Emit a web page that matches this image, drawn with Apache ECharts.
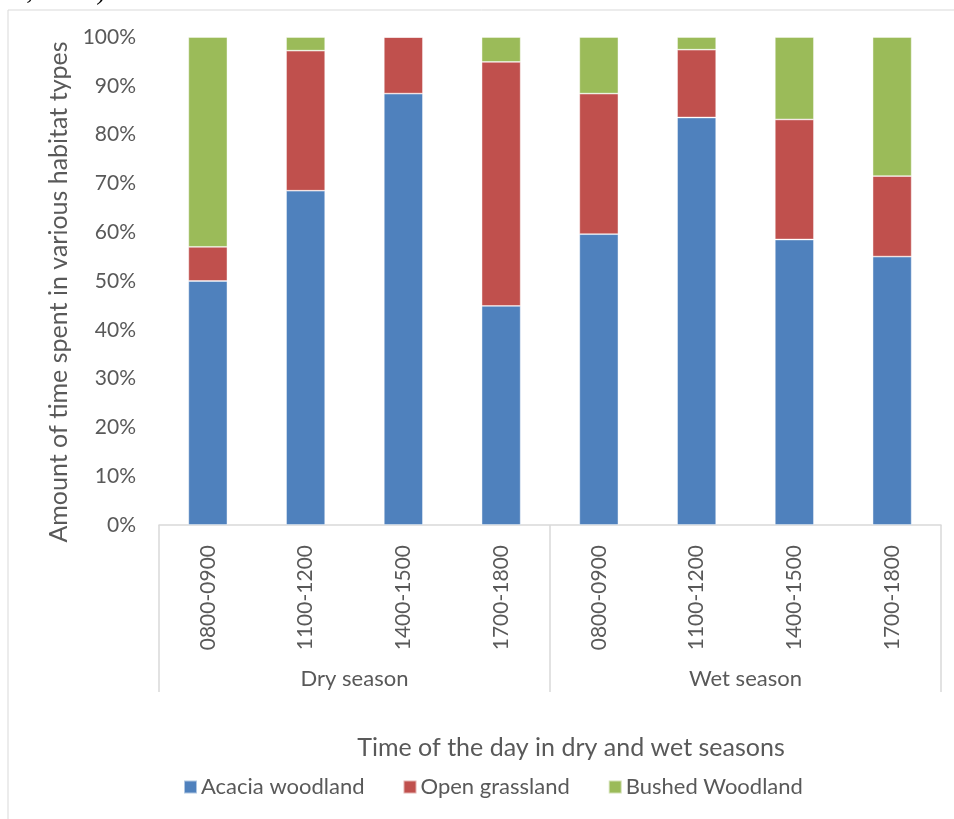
<!DOCTYPE html>
<html>
<head>
<meta charset="utf-8">
<script src="https://cdn.jsdelivr.net/npm/echarts@6/dist/echarts.min.js"></script>
<style>
  html, body { margin: 0; padding: 0; background: #fff; }
  #chart { width: 954px; height: 819px; }
</style>
</head>
<body>
<div id="chart"></div>
<script>
// Time slots within each season, and the season groups
const timeSlots = ['0800-0900', '1100-1200', '1400-1500', '1700-1800',
                   '0800-0900', '1100-1200', '1400-1500', '1700-1800'];
const seasons = ['Dry season', 'Wet season'];

// Share of time (%) spent in each habitat type
const acaciaWoodland = [50.0, 68.5, 88.4, 44.9, 59.6, 83.5, 58.5, 55.0];
const openGrassland  = [7.0, 28.7, 11.6, 50.0, 28.8, 13.9, 24.6, 16.5];
const bushedWoodland = [43.0, 2.8, 0.0, 5.1, 11.6, 2.6, 16.9, 28.5];

const yTicks = [0, 10, 20, 30, 40, 50, 60, 70, 80, 90, 100];

const FONT = 'Lato';
const GREY = '#595959';
const LINE = '#D9D9D9';

const chart = echarts.init(document.getElementById('chart'), null, { renderer: 'canvas' });

const barStyle = (color) => ({
  color: color,
  borderColor: 'rgba(255,255,255,0.55)',
  borderWidth: 0.8
});

chart.setOption({
  animation: false,
  backgroundColor: '#ffffff',
  textStyle: { fontFamily: FONT },
  graphic: [
    {
      type: 'rect',
      shape: { x: 8, y: 10, width: 980, height: 860 },
      style: { fill: 'none', stroke: LINE, lineWidth: 1 },
      silent: true
    },
    {
      type: 'text',
      left: -1,
      top: -22,
      style: {
        text: 'al., 2017).',
        font: '28px "Liberation Serif"',
        fill: '#000'
      },
      silent: true
    }
  ],
  grid: { left: 159, right: 13, top: 37, bottom: 294, containLabel: false },
  legend: {
    data: ['Acacia woodland', 'Open grassland', 'Bushed Woodland'],
    bottom: 16,
    left: 178,
    itemWidth: 13,
    itemHeight: 13,
    itemGap: 38,
    icon: 'rect',
    textStyle: { fontFamily: FONT, fontSize: 22, color: GREY, padding: [0, 0, 0, -1] }
  },
  xAxis: [
    {
      type: 'category',
      data: timeSlots,
      gridIndex: 0,
      position: 'bottom',
      axisLine: { show: true, lineStyle: { color: LINE, width: 1.5 } },
      axisTick: { show: false },
      axisLabel: {
        rotate: 90,
        margin: 20,
        fontFamily: FONT,
        fontSize: 21,
        color: GREY,
        interval: 0
      },
      name: 'Time of the day in dry and wet seasons',
      nameLocation: 'middle',
      nameGap: 210,
      nameTextStyle: { fontFamily: FONT, fontSize: 25, color: GREY, padding: [0, 0, 0, 42] }
    },
    {
      type: 'category',
      data: seasons,
      gridIndex: 0,
      position: 'bottom',
      axisLine: { show: false },
      axisTick: {
        show: true,
        inside: false,
        length: 167,
        alignWithLabel: false,
        lineStyle: { color: LINE, width: 1.5 }
      },
      axisLabel: {
        margin: 143,
        fontFamily: FONT,
        fontSize: 22,
        color: GREY,
        verticalAlign: 'top'
      },
      splitLine: { show: false }
    }
  ],
  yAxis: {
    type: 'value',
    min: yTicks[0],
    max: yTicks[yTicks.length - 1],
    interval: yTicks[1] - yTicks[0],
    axisLine: { show: false },
    axisTick: { show: false },
    splitLine: { show: false },
    axisLabel: {
      formatter: '{value}%',
      margin: 23,
      fontFamily: FONT,
      fontSize: 21,
      color: GREY
    },
    name: 'Amount of time spent in various habitat types',
    nameLocation: 'middle',
    nameGap: 88,
    nameTextStyle: { fontFamily: FONT, fontSize: 25, color: GREY, padding: [0, 22, 0, 0] }
  },
  series: [
    {
      name: 'Acacia woodland',
      type: 'bar',
      stack: 'habitat',
      barWidth: '40%',
      xAxisIndex: 0,
      itemStyle: barStyle('#4F81BD'),
      data: acaciaWoodland
    },
    {
      name: 'Open grassland',
      type: 'bar',
      stack: 'habitat',
      barWidth: '40%',
      xAxisIndex: 0,
      itemStyle: barStyle('#C0504D'),
      data: openGrassland
    },
    {
      name: 'Bushed Woodland',
      type: 'bar',
      stack: 'habitat',
      barWidth: '40%',
      xAxisIndex: 0,
      itemStyle: barStyle('#9BBB59'),
      data: bushedWoodland
    }
  ]
});
</script>
</body>
</html>
